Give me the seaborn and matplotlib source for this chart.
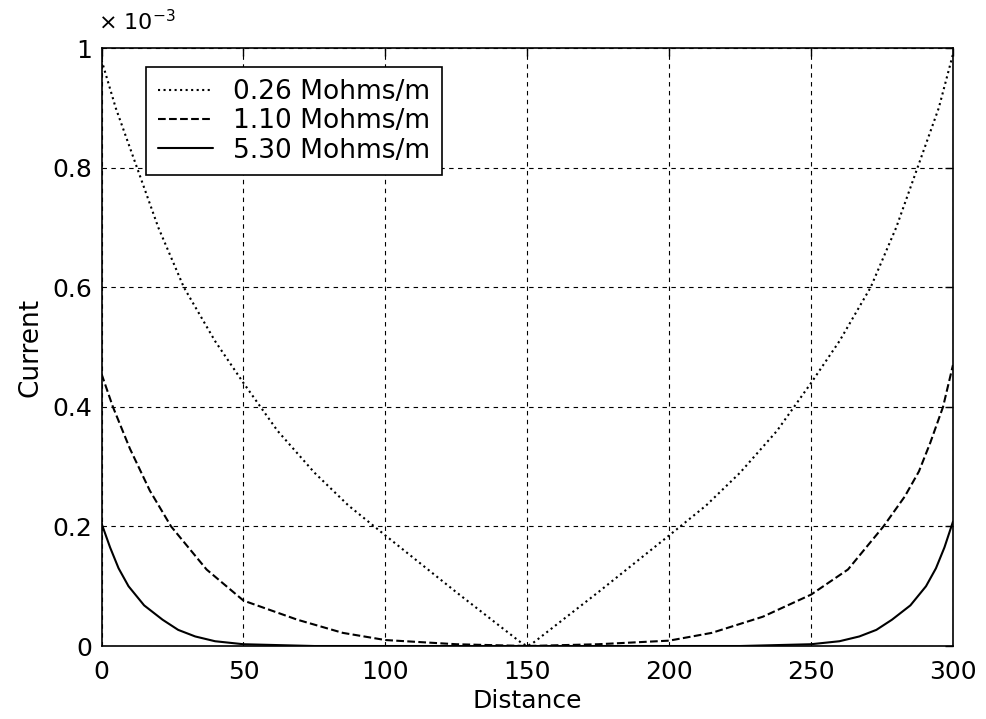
import numpy as np
import pandas as pd
import matplotlib
matplotlib.use("Agg")
import matplotlib.pyplot as plt
import seaborn as sns
from matplotlib.ticker import FuncFormatter

# current in units of 1e-3
x_026 = [0, 5, 12.5, 20, 29, 40, 50, 62, 75, 87, 100, 125, 148, 150,
         152, 175, 200, 213, 225, 238, 250, 260, 271, 280, 287.5, 295, 300]
i_026 = [0.98, 0.90, 0.80, 0.70, 0.60, 0.51, 0.44, 0.36, 0.29, 0.235, 0.185, 0.09, 0.005, 0.0,
         0.005, 0.09, 0.185, 0.235, 0.29, 0.36, 0.44, 0.51, 0.60, 0.70, 0.80, 0.90, 0.99]

x_110 = [0, 4, 10, 17, 24.5, 37, 50, 69, 85, 100, 125, 150,
         175, 200, 215, 233, 250, 263, 275.5, 283, 288, 292, 296.5, 300]
i_110 = [0.455, 0.40, 0.33, 0.26, 0.20, 0.128, 0.076, 0.044, 0.022, 0.01, 0.003, 0.0,
         0.003, 0.009, 0.022, 0.049, 0.086, 0.128, 0.20, 0.25, 0.292, 0.34, 0.40, 0.47]

x_530 = [0, 3, 6, 9.5, 15, 21.5, 27, 33, 40, 50, 75, 150,
         225, 250, 260, 267, 273, 278.5, 285, 290.5, 294, 297, 300]
i_530 = [0.205, 0.165, 0.13, 0.10, 0.068, 0.044, 0.027, 0.016, 0.008, 0.003, 0.0, 0.0,
         0.0, 0.003, 0.008, 0.016, 0.027, 0.044, 0.068, 0.10, 0.13, 0.165, 0.208]

labels = ["0.26 Mohms/m", "1.10 Mohms/m", "5.30 Mohms/m"]
xticks = [0, 50, 100, 150, 200, 250, 300]
yticks = [0, 0.2e-3, 0.4e-3, 0.6e-3, 0.8e-3, 1e-3]

sns.set_style("white")
plt.rcParams['font.family'] = ['DejaVu Sans']
plt.rcParams['text.color'] = 'black'
plt.rcParams['axes.labelcolor'] = 'black'

fig = plt.figure(figsize=(9.86, 7.19), dpi=100)
ax = fig.add_axes([0.103, 0.1015, 0.8635, 0.8315])

styles = [":", "--", "-"]
for xs, ys, lab, ls in zip([x_026, x_110, x_530], [i_026, i_110, i_530], labels, styles):
    df = pd.DataFrame({"Distance": xs, "Current": np.array(ys) * 1e-3})
    sns.lineplot(data=df, x="Distance", y="Current", ax=ax, color="black",
                 linestyle=ls, linewidth=1.5, label=lab, estimator=None, sort=False)

ax.set_xlim(0, 300)
ax.set_ylim(0, 1e-3)
ax.set_xticks(xticks)
ax.set_yticks(yticks)
ax.yaxis.set_major_formatter(FuncFormatter(lambda v, p: f"{v*1e3:g}"))
ax.tick_params(direction="in", top=True, right=True, length=6, width=1,
               labelsize=18, colors="black")
ax.tick_params(axis="x", pad=10)
ax.tick_params(axis="y", pad=7)
ax.grid(True, color="black", linestyle=(0, (4, 4)), linewidth=0.8)
for s in ax.spines.values():
    s.set_color("black")
    s.set_linewidth(1.2)

ax.set_xlabel("Distance", fontsize=18, labelpad=4)
ax.set_ylabel("Current", fontsize=19, labelpad=6)
ax.text(-0.004, 1.03, r"$\times$ 10$^{-3}$", transform=ax.transAxes,
        fontsize=16, ha="left", va="baseline")

leg = ax.legend(loc="upper left", bbox_to_anchor=(0.052, 0.968), fontsize=19,
                frameon=True, fancybox=False, edgecolor="black", framealpha=1,
                borderaxespad=0, handlelength=2.1, handletextpad=0.76,
                labelspacing=0.12, borderpad=0.45)
leg.get_frame().set_linewidth(1.2)
for t in leg.get_texts():
    t.set_color("black")

fig.savefig("out.png", dpi=100)
